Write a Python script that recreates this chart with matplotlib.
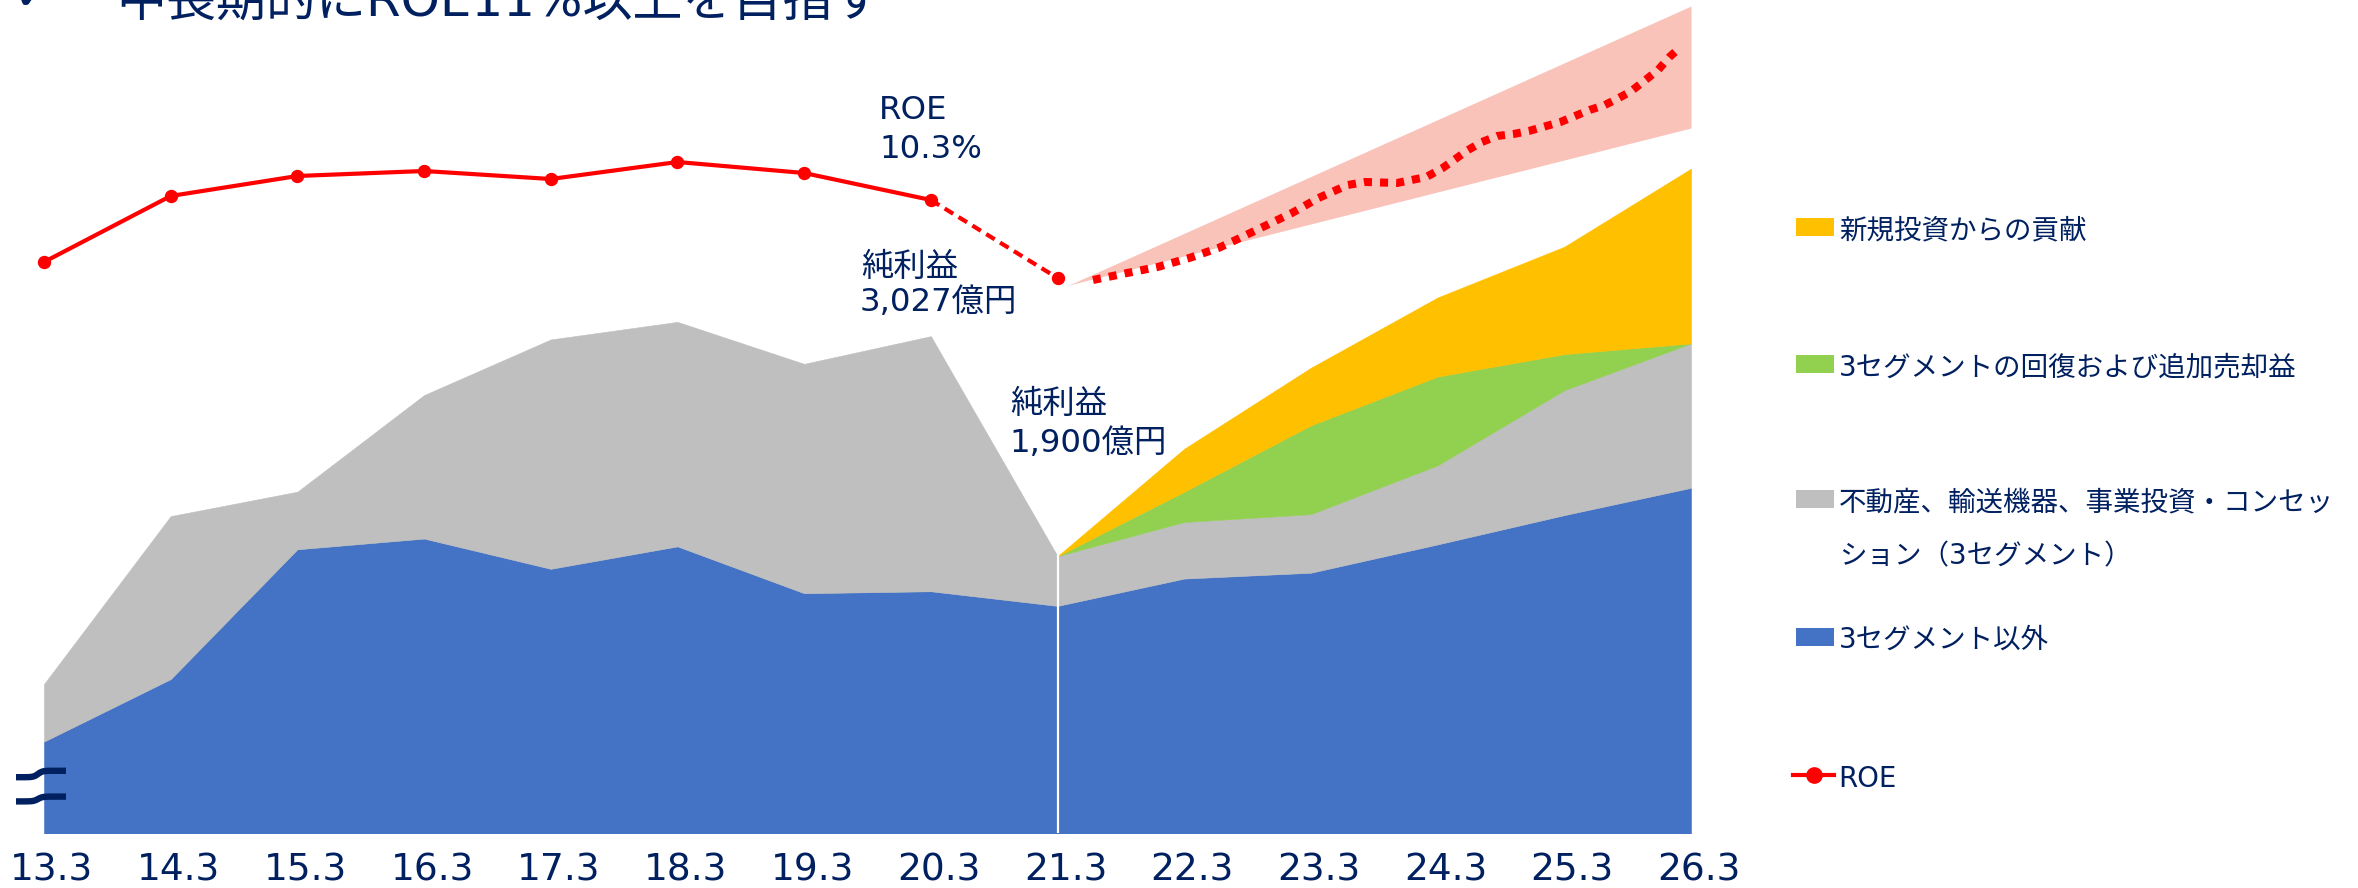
import matplotlib
matplotlib.use('Agg')
import matplotlib.pyplot as plt
from matplotlib.patches import Rectangle
from matplotlib.transforms import ScaledTranslation
import numpy as np

plt.rcParams['font.family'] = ['DejaVu Sans', 'Noto Sans CJK JP']

# ---------------- data ----------------
years = ['13.3', '14.3', '15.3', '16.3', '17.3', '18.3', '19.3',
         '20.3', '21.3', '22.3', '23.3', '24.3', '25.3', '26.3']

# net income components (億円), actual period 13.3 - 21.3
hist_other = [950, 1270, 1935, 1990, 1835, 1950, 1710, 1720, 1645]
hist_3seg = [295, 835, 295, 735, 1175, 1150, 1175, 1307, 255]

# plan period 21.3 - 26.3
fc_other = [1645, 1785, 1815, 1960, 2110, 2250]
fc_3seg = [255, 290, 300, 405, 640, 740]
fc_recovery = [0, 155, 455, 455, 185, 0]
fc_new = [0, 220, 295, 405, 550, 895]

# ROE (%)
roe_hist = [7.2, 10.5, 11.5, 11.75, 11.35, 12.2, 11.65, 10.3]
roe_21 = 6.4
roe_fc_x = [8.28, 8.55, 8.79, 9.04, 9.27, 9.39, 9.62, 9.85, 10.06, 10.29,
            10.43, 10.68, 10.91, 11.04, 11.14, 11.24, 11.35, 11.47, 11.60,
            11.72, 11.97, 12.20, 12.32, 12.43, 12.53, 12.64, 12.74, 12.83, 12.90]
roe_fc_y = [6.30, 6.65, 6.95, 7.40, 7.90, 8.25, 8.95, 9.65, 10.40, 11.05,
            11.20, 11.15, 11.45, 11.90, 12.35, 12.80, 13.20, 13.50, 13.60,
            13.75, 14.20, 14.80, 15.05, 15.40, 15.75, 16.30, 16.80, 17.45, 17.85]
band_x = [8.09, 13.0]
band_hi = [6.05, 20.0]
band_lo = [6.05, 13.9]

legend_labels = ['新規投資からの貢献',
                 '3セグメントの回復および追加売却益',
                 '不動産、輸送機器、事業投資・コンセッ\nション（3セグメント）',
                 '3セグメント以外',
                 'ROE']

title = '中長期的にROE11%以上を目指す'
ann_roe = ['ROE', '10.3%']
ann_ni20 = ['純利益', '3,027億円']
ann_ni21 = ['純利益', '1,900億円']

# ---------------- style ----------------
BLUE = '#4472C4'
GRAY = '#BFBFBF'
GREEN = '#92D050'
YELLOW = '#FFC000'
RED = '#FF0000'
PINK = '#F9C3BA'
NAVY = '#002060'

W, H = 2358, 888
fig = plt.figure(figsize=(W / 100, H / 100), dpi=100)


def px_rect(x0, y0, x1, y1):
    return [x0 / W, 1 - y1 / H, (x1 - x0) / W, (y1 - y0) / H]


ax = fig.add_axes(px_rect(44, 0, 1691, 833))
ax.set_xlim(0, 13)
ax.set_ylim(481.6, 4749)
ax.patch.set_alpha(0)

x_hist = np.arange(len(hist_other))
x_fc = np.arange(8, 8 + len(fc_other))

polys = ax.stackplot(x_hist, hist_other, hist_3seg, colors=[BLUE, GRAY])
polys += ax.stackplot(x_fc, fc_other, fc_3seg, fc_recovery, fc_new,
                      colors=[BLUE, GRAY, GREEN, YELLOW])
for p in polys:
    p.set_edgecolor(p.get_facecolor())
    p.set_linewidth(0.4)

total_21 = hist_other[-1] + hist_3seg[-1]
ax.plot([8, 8], [0, total_21], color='white', lw=1.6, zorder=5)

for s in ax.spines.values():
    s.set_visible(False)
ax.set_yticks([])
ax.set_xticks(range(len(years)))
ax.set_xticklabels(years, fontsize=27, color=NAVY)
ax.tick_params(axis='x', length=0, pad=14)
shift = ScaledTranslation(8 / 100, 0, fig.dpi_scale_trans)
for lab in ax.get_xticklabels():
    lab.set_transform(lab.get_transform() + shift)

ax2 = ax.twinx()
ax2.set_ylim(-21.35, 20.3)
ax2.patch.set_alpha(0)
for s in ax2.spines.values():
    s.set_visible(False)
ax2.set_yticks([])

ax2.fill_between(band_x, band_lo, band_hi, color=PINK, lw=0, zorder=1)
ax2.plot(range(len(roe_hist)), roe_hist, color=RED, lw=3.0, marker='o',
         ms=8.6, zorder=3, clip_on=False)
ax2.plot([7, 8], [roe_hist[-1], roe_21], color=RED, lw=3.0,
         dashes=(2.4, 1.5), zorder=3)
ax2.plot([8], [roe_21], 'o', color=RED, ms=8.6, zorder=3)
ax2.plot(roe_fc_x, roe_fc_y, color=RED, lw=5.8, dashes=(1.0, 1.0),
         dash_capstyle='butt', zorder=3)

# ---------------- overlay (pixel coords) ----------------
ov = fig.add_axes([0, 0, 1, 1], zorder=10)
ov.set_xlim(0, W)
ov.set_ylim(H, 0)
ov.axis('off')

# title (clipped at top, as in the source slide)
ov.text(116, 16, title, fontsize=36, color=NAVY, va='baseline', ha='left')
ov.text(16, 8, '✔', fontsize=28, color=NAVY, va='baseline', ha='left')

# annotations
ov.text(879, 119, ann_roe[0], fontsize=23.3, color=NAVY, va='baseline')
ov.text(879, 158, ann_roe[1], fontsize=23.3, color=NAVY, va='baseline')
ov.text(861, 276, ann_ni20[0], fontsize=23.3, color=NAVY, va='baseline')
ov.text(860, 311, ann_ni20[1], fontsize=23.3, color=NAVY, va='baseline')
ov.text(1010, 413, ann_ni21[0], fontsize=23.3, color=NAVY, va='baseline')
ov.text(1009, 452, ann_ni21[1], fontsize=23.3, color=NAVY, va='baseline')

# legend
leg_colors = [YELLOW, GREEN, GRAY, BLUE]
leg_centers = [227, 364, 499, 637]
for c, yc, lab in zip(leg_colors, leg_centers, legend_labels[:4]):
    ov.add_patch(Rectangle((1796, yc - 9), 38, 18, facecolor=c,
                           edgecolor='none'))
    for i, line in enumerate(lab.split('\n')):
        ov.text(1839, yc + 11 + i * 54, line, fontsize=19.8, color=NAVY,
                va='baseline', ha='left')
ov.plot([1793, 1834], [775, 775], color=RED, lw=3.0)
ov.plot([1814], [775], 'o', color=RED, ms=11)
ov.text(1838, 787, legend_labels[4], fontsize=19.8, color=NAVY,
        va='baseline', ha='left')

# axis break mark
xs = np.linspace(16, 66, 60)
ov.plot(xs, 774 - 3.2 * np.tanh((xs - 38) / 4.5), color=NAVY, lw=4.6,
        solid_capstyle='butt')
ov.plot(xs, 799 - 2.4 * np.tanh((xs - 38) / 4.5), color=NAVY, lw=4.6,
        solid_capstyle='butt')

fig.savefig('out.png', dpi=100)
